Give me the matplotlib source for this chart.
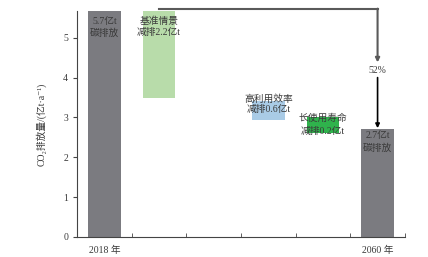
import matplotlib.pyplot as plt
from matplotlib.ticker import FixedLocator

plt.rcParams['font.family'] = ['Liberation Serif', 'Noto Sans CJK SC', 'DejaVu Sans']

# data
positions = [0, 1, 3, 4, 5]
bottoms = [0.0, 3.5, 2.93, 2.6, 0.0]
tops = [5.7, 5.7, 3.4, 3.0, 2.72]
colors = ["#7b7b80", "#b8dcaa", "#a9cbe6", "#2fb24c", "#7b7b80"]
line1 = ["5.7亿t", "基准情景", "高利用效率", "长使用寿命", "2.7亿t"]
line2 = ["碳排放", "减排2.2亿t", "减排0.6亿t", "减排0.2亿t", "碳排放"]
line1_y = [5.42, 5.42, 3.47, 2.98, 2.55]
line2_y = [5.12, 5.12, 3.2, 2.66, 2.22]
xtick_pos = [0, 5]
xtick_labels = ["2018 年", "2060 年"]
share_text = "52%"

fig = plt.figure(figsize=(4.28, 2.57), dpi=100)
ax = fig.add_axes([0.18, 0.078, 0.766, 0.879])

heights = [t - b for t, b in zip(tops, bottoms)]
ax.bar(positions, heights, bottom=bottoms, width=0.6, color=colors, zorder=2)

for i, p in enumerate(positions):
    ax.text(p, line1_y[i], line1[i], ha="center", va="center", fontsize=7,
            color="#3a3a3a", zorder=3)
    ax.text(p, line2_y[i], line2[i], ha="center", va="center", fontsize=7,
            color="#3a3a3a", zorder=3)

# arrow from baseline scenario down to 2060
lc = "#5a5a5a"
ax.plot([1, 5], [5.72, 5.72], color=lc, lw=1.5, clip_on=False, zorder=4)
ax.annotate("", xy=(5, 4.38), xytext=(5, 5.73),
            arrowprops=dict(arrowstyle="-|>", color=lc, lw=1.5,
                            mutation_scale=6, shrinkA=0, shrinkB=0),
            annotation_clip=False)
ax.text(5, 4.18, share_text, ha="center", va="center", fontsize=7, color="#3a3a3a")
ax.annotate("", xy=(5, 2.73), xytext=(5, 4.0),
            arrowprops=dict(arrowstyle="-|>", color="black", lw=1.2,
                            mutation_scale=6, shrinkA=0, shrinkB=0))

ax.set_xlim(-0.5, 5.5)
ax.set_ylim(0, 5.67)
ax.set_yticks([0, 1, 2, 3, 4, 5])
ax.set_xticks(xtick_pos)
ax.set_xticklabels(xtick_labels, fontsize=7, color="#3a3a3a")
ax.xaxis.set_minor_locator(FixedLocator([0.5, 1.5, 2.5, 3.5, 4.5, 5.5]))
ax.tick_params(axis="x", which="major", length=0, pad=6)
ax.tick_params(axis="x", which="minor", direction="in", length=3, color="#444444")
ax.tick_params(axis="y", length=3, labelsize=7, labelcolor="#3a3a3a", color="#444444")
ax.set_ylabel("CO₂排放量/(亿t·a⁻¹)", fontsize=7, color="#3a3a3a", labelpad=12)

for s in ["top", "right"]:
    ax.spines[s].set_visible(False)
for s in ["left", "bottom"]:
    ax.spines[s].set_color("#444444")

fig.savefig("out.png", dpi=100)
